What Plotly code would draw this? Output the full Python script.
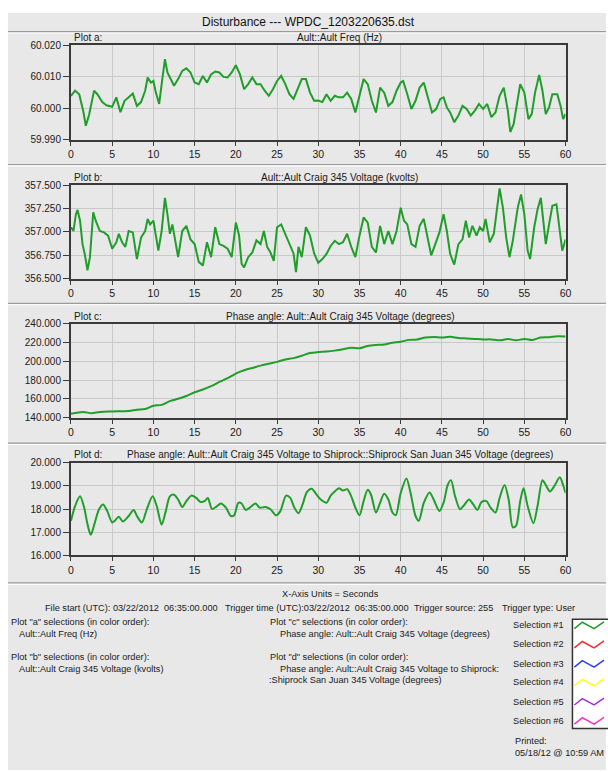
import plotly.graph_objects as go

# ---------------- data ----------------
t_a = [0, 0.5, 1, 1.5, 1.8, 2.2, 2.8, 3.2, 3.8, 4.3, 5, 5.5, 6, 6.5, 7, 7.5, 8, 8.5, 9, 9.3, 9.7,
       10, 10.3, 10.7, 11, 11.4, 11.7, 12, 12.5, 13, 13.5, 14, 14.5, 15, 15.5, 16, 16.5, 17, 17.5,
       18, 18.5, 19, 19.5, 20, 20.5, 21, 21.5, 22, 22.5, 23, 23.5, 24, 24.5, 25, 25.5, 26, 26.5,
       27, 27.5, 28, 28.5, 29, 29.5, 30, 30.5, 31, 31.5, 32, 32.5, 33, 33.5, 34, 34.5, 35, 35.5,
       36, 36.5, 37, 37.5, 38, 38.5, 39, 39.5, 40, 40.3, 40.8, 41.3, 41.8, 42.3, 42.8, 43.3, 43.8,
       44.3, 44.8, 45.2, 45.6, 46, 46.5, 47, 47.5, 48, 48.5, 49, 49.5, 50, 50.5, 51, 51.5, 52,
       52.5, 53, 53.3, 53.7, 54.2, 54.5, 55, 55.5, 55.9, 56.3, 56.8, 57.2, 57.6, 58, 58.4, 59,
       59.4, 59.7, 60]
freq_a = [60.0040, 60.0056, 60.0045, 59.9990, 59.9945, 59.9980, 60.0056, 60.0045, 60.0020, 60.0010,
          60.0005, 60.0035, 59.9988, 60.0024, 60.0035, 60.0047, 60.0008, 60.0020, 60.0056, 60.0098,
          60.0082, 60.0087, 60.0050, 60.0014, 60.0077, 60.0156, 60.0114, 60.0098, 60.0072, 60.0093,
          60.0119, 60.0127, 60.0114, 60.0082, 60.0077, 60.0103, 60.0082, 60.0108, 60.0117, 60.0114,
          60.0100, 60.0098, 60.0114, 60.0137, 60.0108, 60.0061, 60.0077, 60.0098, 60.0077, 60.0077,
          60.0056, 60.0040, 60.0061, 60.0087, 60.0103, 60.0077, 60.0045, 60.0030, 60.0061, 60.0093,
          60.0093, 60.0050, 60.0024, 60.0025, 60.0020, 60.0045, 60.0024, 60.0040, 60.0035, 60.0035,
          60.0050, 60.0030, 59.9987, 60.0040, 60.0093, 60.0077, 60.0024, 59.9987, 60.0066, 60.0050,
          60.0008, 60.0020, 60.0056, 60.0082, 60.0087, 60.0045, 59.9998, 60.0024, 60.0066, 60.0082,
          60.0035, 59.9987, 59.9998, 60.0030, 60.0035, 60.0003, 59.9987, 59.9956, 59.9977, 60.0008,
          59.9998, 59.9977, 59.9993, 60.0014, 59.9998, 60.0014, 59.9972, 59.9987, 60.0040, 60.0066,
          59.9993, 59.9925, 59.9950, 60.0035, 60.0077, 60.0050, 59.9966, 59.9982, 60.0050, 60.0106,
          60.0056, 59.9982, 60.0003, 60.0045, 60.0045, 60.0008, 59.9966, 59.9982]

t_b = [0, 0.3, 0.6, 0.8, 1.1, 1.4, 1.7, 2, 2.3, 2.7, 3, 3.5, 4, 4.5, 5, 5.5, 5.8, 6.2, 6.6, 7, 7.5,
       8, 8.5, 9, 9.3, 9.6, 10, 10.3, 10.6, 11, 11.4, 11.7, 12, 12.3, 12.7, 13, 13.5, 14, 14.5, 15,
       15.5, 16, 16.5, 17, 17.5, 18, 18.5, 19, 19.5, 20, 20.4, 20.7, 21, 21.5, 22, 22.5, 23, 23.4,
       23.8, 24.2, 24.6, 25, 25.5, 26, 26.5, 27, 27.3, 27.6, 28, 28.5, 29, 29.5, 30, 30.5, 31, 31.5,
       32, 32.5, 33, 33.5, 34, 34.5, 35, 35.5, 36, 36.5, 37, 37.5, 38, 38.5, 39, 39.5, 40, 40.4,
       40.8, 41.3, 41.8, 42.3, 42.8, 43.3, 43.7, 44.2, 44.7, 45.2, 45.6, 46, 46.5, 47, 47.5, 47.9,
       48.3, 48.7, 49.2, 49.6, 50, 50.3, 50.8, 51.3, 51.7, 52, 52.4, 52.8, 53.2, 53.6, 54.2, 54.6,
       55, 55.4, 55.7, 56.2, 56.6, 57, 57.3, 57.6, 58, 58.4, 58.9, 59.3, 59.6, 60]
volt_b = [357.05, 357.01, 357.19, 357.235, 357.12, 356.87, 356.75, 356.59, 356.73, 357.21, 357.12,
          357.01, 356.995, 356.96, 356.82, 356.89, 356.98, 356.89, 356.84, 357.01, 356.995, 356.71,
          356.94, 357.01, 357.14, 357.08, 357.12, 356.98, 356.80, 357.01, 357.365, 357.19, 356.98,
          357.08, 356.87, 356.73, 357.01, 357.065, 356.92, 356.87, 356.68, 356.64, 356.89, 356.73,
          357.05, 356.87, 356.85, 356.82, 356.73, 357.10, 356.96, 356.66, 356.62, 356.73, 356.78,
          356.91, 356.87, 357.01, 356.84, 356.78, 356.69, 357.05, 357.08, 356.98, 356.87, 356.77,
          356.57, 356.84, 356.73, 357.05, 356.96, 356.77, 356.67, 356.71, 356.765, 356.85, 356.905,
          356.87, 356.89, 356.98, 356.84, 356.73, 356.96, 357.155, 357.10, 356.84, 356.78, 357.065,
          356.87, 357.01, 356.87, 357.01, 357.26, 357.12, 357.08, 356.87, 356.84, 357.065, 357.14,
          356.94, 356.75, 356.87, 356.995, 357.19, 357.01, 356.765, 356.65, 356.87, 356.92, 357.12,
          356.94, 357.065, 356.96, 357.05, 357.01, 357.14, 356.89, 356.98, 357.225, 357.465, 357.26,
          356.94, 356.73, 356.905, 357.26, 357.40, 357.19, 356.80, 356.71, 357.05, 357.24, 357.365,
          357.12, 356.87, 357.08, 357.28, 357.295, 357.01, 356.80, 356.92]

t_c = [0, 1.5, 2.5, 3.5, 5, 7, 8, 9, 10, 11, 12, 13, 14, 15, 16, 17, 18, 19, 20, 21, 22, 23, 24,
       25, 26, 27, 28, 29, 30, 31, 32, 33, 34, 35, 36, 37, 38, 39, 40, 41, 42, 43, 44, 45, 46, 47,
       48, 49, 50, 51, 52, 53, 54, 55, 56, 57, 58, 59, 60]
ang_c = [144, 146, 144.5, 146, 146.5, 147, 148.3, 149, 152.5, 153.5, 157.5, 160, 163, 167, 170,
         173.5, 178, 182, 187, 190.5, 193, 195.5, 197.5, 199.5, 202, 203.5, 206, 209, 210, 210.5,
         211.5, 213, 214.5, 214, 216.5, 217.5, 218, 220, 221, 223, 223.5, 225.5, 226, 225.5, 226.3,
         225, 224.5, 224, 223.5, 223.5, 222.5, 224, 222.5, 224, 223, 225.5, 225.8, 227, 226.5]

t_d = [0, 0.5, 1.1, 1.6, 2, 2.4, 2.9, 3.4, 3.9, 4.4, 5, 5.3, 5.8, 6.3, 7, 7.6, 8, 8.6, 9.2, 9.9,
       10.4, 11, 11.5, 12, 12.5, 13, 13.5, 14, 14.6, 15.2, 15.7, 16.2, 16.6, 17.1, 17.6, 18.2,
       18.8, 19.4, 19.8, 20.3, 20.7, 21.2, 21.7, 22.4, 22.9, 23.6, 24.2, 24.9, 25.4, 26.1, 26.6,
       27.1, 27.6, 28.1, 28.6, 29.2, 29.8, 30.3, 31, 31.5, 32, 32.5, 33, 33.5, 34, 34.5, 35, 35.5,
       36, 36.4, 37, 37.5, 38, 38.5, 39, 39.4, 40, 40.7, 41.2, 41.8, 42.2, 42.8, 43.5, 44, 44.7,
       45.2, 45.7, 46.1, 46.6, 47.2, 47.6, 48.3, 48.8, 49.3, 49.8, 50.4, 50.9, 51.5, 52, 52.6,
       53.1, 53.6, 54.0, 54.5, 54.9, 55.4, 56.1, 56.6, 57.2, 57.6, 58.1, 58.6, 59.3, 59.7, 60]
ang_d = [17.49, 18.13, 18.55, 18.06, 17.35, 16.89, 17.42, 17.99, 18.2, 17.91, 17.42, 17.49, 17.67,
         17.46, 17.7, 17.96, 17.7, 17.42, 17.99, 18.55, 18.13, 17.32, 17.91, 18.55, 18.62, 18.41,
         18.09, 18.34, 18.58, 18.48, 18.31, 18.34, 18.48, 18.01, 18.09, 18.24, 18.06, 17.7, 17.73,
         18.27, 18.24, 17.96, 18.06, 18.24, 18.06, 18.09, 17.99, 17.73, 17.91, 18.58, 18.48, 18.06,
         17.82, 18.2, 18.72, 18.88, 18.62, 18.41, 18.27, 18.58, 18.76, 18.9, 18.8, 18.86, 18.55,
         18.06, 17.73, 18.34, 18.83, 18.62, 17.85, 18.27, 18.66, 18.41, 17.85, 17.73, 18.69, 19.32,
         18.69, 17.7, 17.49, 18.27, 18.72, 18.41, 17.92, 18.27, 19.04, 19.25, 18.55, 17.99, 18.13,
         18.41, 18.2, 17.96, 18.3, 18.34, 18.06, 17.85, 18.48, 19.04, 18.41, 17.21, 17.28, 18.34,
         18.9, 18.13, 17.39, 18.13, 19.25, 19.04, 18.76, 18.97, 19.37, 19.04, 18.69]

x_ticks = [0, 5, 10, 15, 20, 25, 30, 35, 40, 45, 50, 55, 60]
y_ticks_a = [59.99, 60.00, 60.01, 60.02]
y_ticks_b = [356.5, 356.75, 357.0, 357.25, 357.5]
y_ticks_c = [140, 160, 180, 200, 220, 240]
y_ticks_d = [16, 17, 18, 19, 20]

plot_labels = ["Plot a:", "Plot b:", "Plot c:", "Plot d:"]
plot_titles = ["Ault::Ault Freq (Hz)",
               "Ault::Ault Craig 345 Voltage (kvolts)",
               "Phase angle: Ault::Ault Craig 345 Voltage (degrees)",
               "Phase angle: Ault::Ault Craig 345 Voltage to Shiprock::Shiprock San Juan 345 Voltage (degrees)"]
selection_labels = ["Selection #1", "Selection #2", "Selection #3",
                    "Selection #4", "Selection #5", "Selection #6"]
selection_colors = ["#1f9e2a", "#ff2a2a", "#2a3cff", "#ffff1a", "#a030e0", "#ff30c8"]

# ---------------- layout helpers ----------------
W, H = 608, 772
def px(x): return x / W
def py(y): return 1 - y / H

FONT = "Liberation Sans Narrow, Arial Narrow, Liberation Sans, Arial, sans-serif"
GREEN = "#1f9e2a"
BG = "#e8e8e8"
NB = "\u00a0"

x_left, x_right = 69, 571
frames = [(40, 136), (182, 277), (323, 418), (464, 558)]
series = [(t_a, freq_a, "linear"), (t_b, volt_b, "linear"),
          (t_c, ang_c, "spline"), (t_d, ang_d, "spline")]
yticks = [y_ticks_a, y_ticks_b, y_ticks_c, y_ticks_d]

fig = go.Figure()
layout = dict(width=W, height=H, margin=dict(l=0, r=0, t=0, b=0),
              paper_bgcolor="white", plot_bgcolor="white", showlegend=False,
              font=dict(family=FONT, size=10, color="#1a1a1a"))

for i in range(4):
    n = "" if i == 0 else str(i + 1)
    t, v, shape = series[i]
    fig.add_trace(go.Scatter(x=t, y=v, mode="lines", xaxis="x" + n, yaxis="y" + n,
                             line=dict(color=GREEN, width=2, shape=shape, smoothing=0.8),
                             hoverinfo="skip"))
    top, bot = frames[i]
    yt = yticks[i]
    layout["xaxis" + n] = dict(domain=[px(x_left), px(x_right)], range=[0, 60], anchor="y" + n,
                               tickvals=x_ticks, ticktext=[str(v) for v in x_ticks],
                               showgrid=True, gridcolor="#c9c9c9", gridwidth=1,
                               showline=True, mirror=True, linecolor="#3a3a3a", linewidth=2,
                               ticks="outside", ticklen=4, tickcolor="#3a3a3a",
                               zeroline=False, tickfont=dict(size=10.5, family=FONT))
    layout["yaxis" + n] = dict(domain=[py(bot), py(top)], range=[yt[0], yt[-1]], anchor="x" + n,
                               tickvals=yt, tickformat=".3f",
                               showgrid=True, gridcolor="#c9c9c9", gridwidth=1,
                               showline=True, mirror=True, linecolor="#3a3a3a", linewidth=2,
                               ticks="outside", ticklen=6, tickcolor="#3a3a3a",
                               zeroline=False, tickfont=dict(size=10, family=FONT))

fig.update_layout(**layout)

shapes = []
# gray panel
shapes.append(dict(type="rect", xref="paper", yref="paper", x0=px(5), x1=px(612), y0=py(776), y1=py(7),
                   fillcolor=BG, line=dict(width=0), layer="below"))
# separators
for ys in [26, 161, 302, 444, 586]:
    shapes.append(dict(type="line", xref="paper", yref="paper", x0=px(5), x1=px(612),
                       y0=py(ys), y1=py(ys), line=dict(color="#9a9a9a", width=1.2), layer="below"))
    shapes.append(dict(type="line", xref="paper", yref="paper", x0=px(5), x1=px(612),
                       y0=py(ys + 1.5), y1=py(ys + 1.5), line=dict(color="#ffffff", width=1), layer="below"))
# legend box
shapes.append(dict(type="rect", xref="paper", yref="paper", x0=px(578), x1=px(615), y0=py(734), y1=py(623),
                   fillcolor="white", line=dict(color="#333333", width=1.5)))
row_y = [629, 648.5, 668, 687, 706.5, 726]
for c, yc in zip(selection_colors, row_y):
    pts = [(580, yc + 3.5), (588, yc - 3), (600, yc + 3.5), (610, yc - 3.5)]
    path = "M " + " L ".join(f"{px(a):.5f},{py(b):.5f}" for a, b in pts)
    shapes.append(dict(type="path", xref="paper", yref="paper", path=path,
                       line=dict(color=c, width=1.5)))
fig.update_layout(shapes=shapes)

ann = []
def text(x, y, s, anchor="left", size=9.2, color="#1a1a1a"):
    ann.append(dict(x=px(x), y=py(y), xref="paper", yref="paper", text=s, showarrow=False,
                    xanchor=anchor, yanchor="middle", font=dict(family=FONT, size=size, color=color)))

text(310, 16, "Disturbance --- WPDC_1203220635.dst", "center", 12, "#111111")
for i in range(4):
    top = frames[i][0]
    text(70, top - 8, plot_labels[i], size=10)
    text(342, top - 8, plot_titles[i], "center", size=10)

text(332, 597, "X-Axis Units = Seconds", "center")
text(41, 611, "File start (UTC): 03/22/2012 " + NB + "06:35:00.000")
text(223, 611, "Trigger time (UTC):03/22/2012 " + NB + "06:35:00.000")
text(415, 611, "Trigger source: 255")
text(504, 611, "Trigger type: User")
text(6, 626, "Plot \"a\" selections (in color order):")
text(14, 638, "Ault::Ault Freq (Hz)")
text(6, 661, "Plot \"b\" selections (in color order):")
text(14, 673, "Ault::Ault Craig 345 Voltage (kvolts)")
text(269, 626, "Plot \"c\" selections (in color order):")
text(279, 638, "Phase angle: Ault::Ault Craig 345 Voltage (degrees)")
text(269, 661, "Plot \"d\" selections (in color order):")
text(279, 673, "Phase angle: Ault::Ault Craig 345 Voltage to Shiprock:")
text(268, 685, ":Shiprock San Juan 345 Voltage (degrees)")
for s, yc in zip(selection_labels, row_y):
    text(571, yc, s, "right")
text(518, 747, "Printed:")
text(518, 759, "05/18/12 @ 10:59 AM")

fig.update_layout(annotations=ann)
fig.write_html("out.html")
